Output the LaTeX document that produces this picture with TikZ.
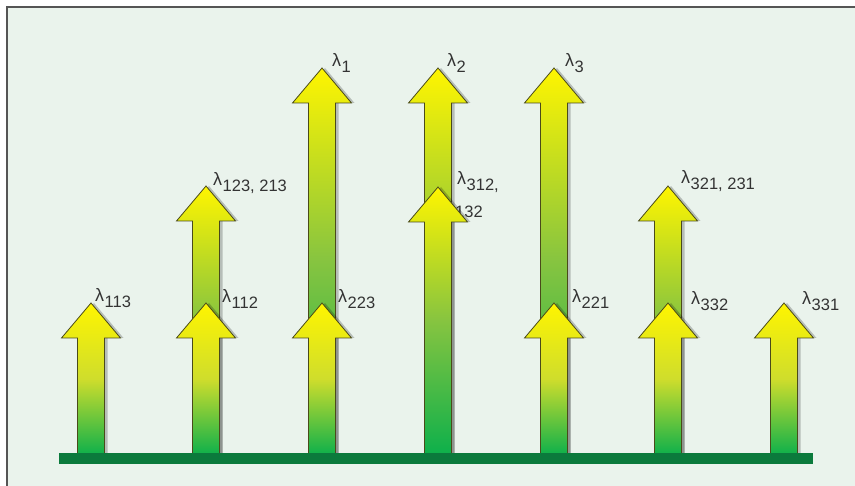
\documentclass[tikz,border=0pt]{standalone}
\usepackage{fontspec}
\setmainfont{Liberation Sans}
\definecolor{bgc}{HTML}{EAF3EC}
\definecolor{barc}{HTML}{0B7A3C}
\definecolor{ay}{HTML}{FFF500}
\definecolor{amshort}{HTML}{CFDD2C}
\definecolor{amtall}{HTML}{86C440}
\definecolor{ag}{HTML}{0DB04B}
\definecolor{aline}{HTML}{4A4A1A}
\definecolor{txt}{HTML}{333333}
\definecolor{framec}{HTML}{555555}
% #1 = centre x, #2 = tip y, #3 = middle colour of the shading
\newcommand\uparr[3]{%
  \fill[black,opacity=.22,xshift=3pt]
    (#1,#2) -- (#1+29.5,#2+35) -- (#1+13.5,#2+35) -- (#1+13.5,455) -- (#1-13.5,455) -- (#1-13.5,#2+35) -- (#1-29.5,#2+35) -- cycle;
  \path[arrowbody, middle color=#3]
    (#1,#2) -- (#1+29.5,#2+35) -- (#1+13.5,#2+35) -- (#1+13.5,455) -- (#1-13.5,455) -- (#1-13.5,#2+35) -- (#1-29.5,#2+35) -- cycle;
}
\newcommand\lab[4]{%
  \node[lbl] (#1) at (#2,#3) {λ\hspace{0.5pt}\raisebox{-6pt}{\fontsize{16.5}{16.5}\selectfont #4}};
}
\tikzset{
  arrowbody/.style={draw=aline, line width=0.8pt, line join=miter, top color=ay, bottom color=ag},
  lbl/.style={anchor=base west, inner sep=0pt, text=txt, font=\fontsize{18}{18}\selectfont},
}
\begin{document}
\begin{tikzpicture}[x=1pt,y=-1pt]
\useasboundingbox (0,0) rectangle (855,486);
\fill[white] (0,0) rectangle (855,486);
\fill[bgc] (7,7) rectangle (855,486);
\draw[framec, line width=1.5pt] (7,486) -- (7,7) -- (855,7);
% column 1
\uparr{91}{303}{amshort}
% column 2
\uparr{206}{186}{amtall}
\uparr{206}{303}{amshort}
% column 3
\uparr{322}{68}{amtall}
\uparr{322}{303}{amshort}
% column 4
\uparr{438}{68}{amtall}
\node[anchor=base west, inner sep=0pt, text=txt, font=\fontsize{16.5}{16.5}\selectfont] (t132) at (455,218) {132};
\uparr{438}{187}{amtall}
% column 5
\uparr{554}{68}{amtall}
\uparr{554}{303}{amshort}
% column 6
\uparr{668}{186}{amtall}
\uparr{668}{303}{amshort}
% column 7
\uparr{784}{303}{amshort}
% base bar
\fill[barc] (59,453) rectangle (813,464);
% labels
\lab{l113}{95}{302}{113}
\lab{l112}{222}{303}{112}
\lab{l223}{338}{303}{223}
\lab{l221}{572}{303}{221}
\lab{l332}{691}{305}{332}
\lab{l331}{802}{305}{331}
\lab{l123}{213}{186}{123, 213}
\lab{l321}{681}{184}{321, 231}
\lab{l312}{457}{185}{312,}
\lab{l1}{332}{67}{1}
\lab{l2}{447}{67}{2}
\lab{l3}{565}{67}{3}
\end{tikzpicture}
\end{document}
